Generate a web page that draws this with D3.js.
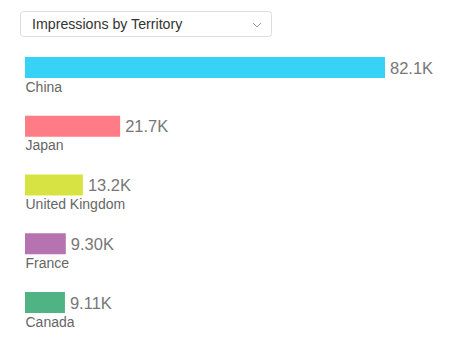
<!DOCTYPE html>
<html>
<head>
<meta charset="utf-8">
<script src="https://cdn.jsdelivr.net/npm/d3@7"></script>
<style>
  body { margin: 0; background: #fff; font-family: "Liberation Sans", Arial, sans-serif; }
</style>
</head>
<body>
<svg id="chart"></svg>
<script>
const territories = ['China', 'Japan', 'United Kingdom', 'France', 'Canada'];
const impressions = [82100, 21700, 13200, 9300, 9110];
const valueLabels = ['82.1K', '21.7K', '13.2K', '9.30K', '9.11K'];
const barColors = ['#36d3f7', '#ff7b86', '#d7e342', '#b673b0', '#50b383'];
const dropdownTitle = 'Impressions by Territory';

const width = 453, height = 351;
const barH = 21;

const svg = d3.select('#chart')
    .attr('width', width)
    .attr('height', height);

// dropdown header
const dd = svg.append('g');
dd.append('rect')
    .attr('x', 20.5).attr('y', 11.5)
    .attr('width', 251).attr('height', 25)
    .attr('rx', 3)
    .attr('fill', '#fff')
    .attr('stroke', '#dcdcdc');
dd.append('text')
    .attr('x', 32).attr('y', 29)
    .attr('font-size', 14.2)
    .attr('fill', '#333')
    .text(dropdownTitle);
dd.append('path')
    .attr('d', 'M253,23 L257,27 L261,23')
    .attr('fill', 'none')
    .attr('stroke', '#999')
    .attr('stroke-width', 1);

const data = territories.map((t, i) => ({
    name: t, value: impressions[i], label: valueLabels[i], color: barColors[i]
}));

const xScale = d3.scaleLinear()
    .domain([0, d3.max(impressions)])
    .range([25, 385]);

const yScale = d3.scalePoint()
    .domain(territories)
    .range([57, 292]);

const rows = svg.selectAll('.row')
    .data(data)
  .join('g')
    .attr('class', 'row');

rows.append('rect')
    .attr('x', xScale(0))
    .attr('y', d => yScale(d.name))
    .attr('width', d => xScale(d.value) - xScale(0))
    .attr('height', barH)
    .attr('fill', d => d.color);

rows.append('text')
    .attr('x', d => xScale(d.value) + 5)
    .attr('y', d => yScale(d.name) + barH / 2 + 6)
    .attr('font-size', 16.5)
    .attr('fill', '#777')
    .text(d => d.label);

rows.append('text')
    .attr('x', 25.5)
    .attr('y', d => yScale(d.name) + barH + 13.5)
    .attr('font-size', 14)
    .attr('fill', '#666')
    .text(d => d.name);
</script>
</body>
</html>
